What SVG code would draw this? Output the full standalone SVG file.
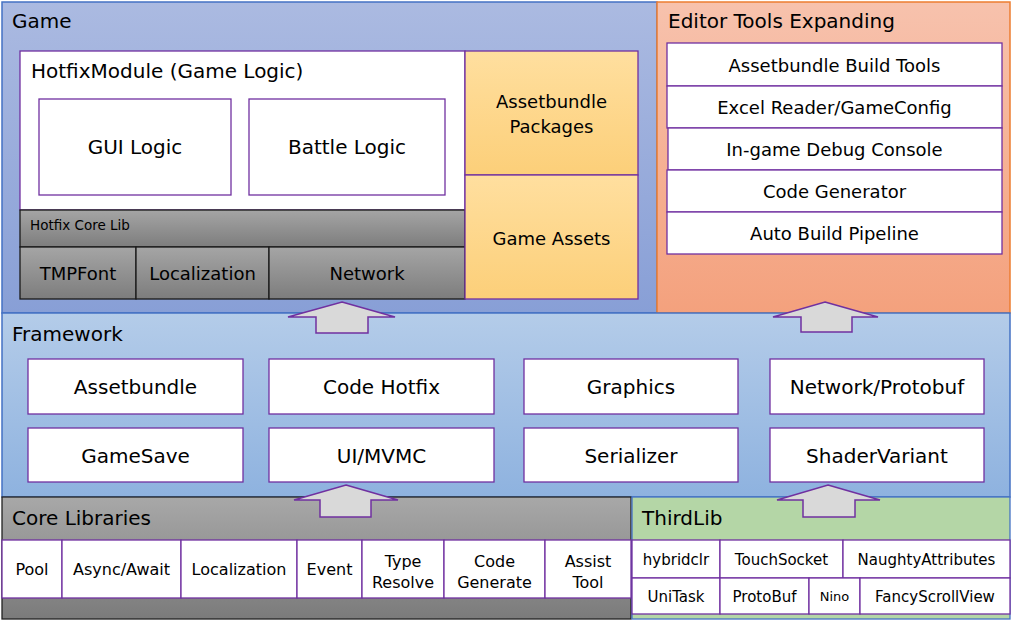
<svg xmlns="http://www.w3.org/2000/svg" width="1013" height="620" viewBox="0 0 1013 620">
<defs>
<linearGradient id="gGame" x1="0" y1="0" x2="0" y2="1"><stop offset="0" stop-color="#abbae1"/><stop offset="1" stop-color="#889fd6"/></linearGradient>
<linearGradient id="gEditor" x1="0" y1="0" x2="0" y2="1"><stop offset="0" stop-color="#f7c2ad"/><stop offset="1" stop-color="#f4a17d"/></linearGradient>
<linearGradient id="gFrame" x1="0" y1="0" x2="0" y2="1"><stop offset="0" stop-color="#b4cce9"/><stop offset="1" stop-color="#8eb2df"/></linearGradient>
<linearGradient id="gCore" x1="0" y1="0" x2="0" y2="1"><stop offset="0" stop-color="#a8a8a8"/><stop offset="1" stop-color="#7b7b7b"/></linearGradient>
<linearGradient id="gHot" x1="0" y1="0" x2="0" y2="1"><stop offset="0" stop-color="#a5a5a5"/><stop offset="1" stop-color="#7d7d7d"/></linearGradient>
<linearGradient id="gOrange" x1="0" y1="0" x2="0" y2="1"><stop offset="0" stop-color="#ffdf9f"/><stop offset="1" stop-color="#fccf79"/></linearGradient>
<style>
text{font-family:"DejaVu Sans","Liberation Sans",sans-serif;fill:#000}
.title{font-size:20px}
.c{text-anchor:middle}
.box{fill:#fff;stroke:#7030a0;stroke-width:1.3}
.arrow{fill:#d9d9d9;stroke:#7030a0;stroke-width:1.5}
.gray{stroke:#1a1a1a;stroke-width:1.3}
.f20{font-size:20px}
.f18{font-size:18px}
.f16{font-size:16px}
.f15{font-size:15px}
</style>
</defs>

<g id="game">
<rect x="2" y="2" width="655" height="311" fill="url(#gGame)" stroke="#4472c4" stroke-width="1.5"/>
<text class="title" x="12" y="28">Game</text>
</g>
<g id="editor">
<rect x="657" y="2" width="353" height="311" fill="url(#gEditor)" stroke="#ed7d31" stroke-width="1.5"/>
<text class="title" x="668" y="28">Editor Tools Expanding</text>
</g>
<g id="framework">
<rect x="2" y="313" width="1008" height="184" fill="url(#gFrame)" stroke="#4472c4" stroke-width="1.5"/>
<text class="title" x="12" y="341">Framework</text>
</g>
<g id="core">
<rect x="2" y="497" width="629" height="122" fill="url(#gCore)" stroke="#222" stroke-width="1.3"/>
<text class="title" x="12" y="525">Core Libraries</text>
</g>
<g id="thirdlib">
<rect x="632" y="497" width="378" height="122" fill="#b4d6a6" stroke="#4472c4" stroke-width="1.3"/>
<text class="title" x="642" y="525">ThirdLib</text>
</g>

<g id="hotfix-module">
<rect class="box" x="20" y="51" width="445" height="159"/>
<text class="f20" x="31" y="78">HotfixModule (Game Logic)</text>
</g>
<g id="gui-logic"><rect class="box" x="39" y="99" width="192" height="96"/><text class="f20 c" x="135" y="154">GUI Logic</text></g>
<g id="battle-logic"><rect class="box" x="249" y="99" width="196" height="96"/><text class="f20 c" x="347" y="154">Battle Logic</text></g>
<g id="hotfix-core-lib"><rect class="gray" x="20" y="210" width="445" height="37" fill="url(#gHot)"/><text x="30" y="230" style="font-size:13.5px">Hotfix Core Lib</text></g>
<g id="tmpfont"><rect class="gray" x="20" y="247" width="116" height="52" fill="url(#gHot)"/><text class="f18 c" x="78" y="280">TMPFont</text></g>
<g id="localization-hot"><rect class="gray" x="136" y="247" width="133" height="52" fill="url(#gHot)"/><text class="f18 c" x="202.5" y="280">Localization</text></g>
<g id="network-hot"><rect class="gray" x="269" y="247" width="196" height="52" fill="url(#gHot)"/><text class="f18 c" x="367" y="280">Network</text></g>
<g id="assetbundle-packages"><rect x="465" y="51" width="173" height="124" fill="url(#gOrange)" stroke="#7030a0" stroke-width="1.3"/><text class="f18 c" x="551.5" y="108">Assetbundle</text><text class="f18 c" x="551.5" y="133">Packages</text></g>
<g id="game-assets"><rect x="465" y="175" width="173" height="124" fill="url(#gOrange)" stroke="#7030a0" stroke-width="1.3"/><text class="f18 c" x="551.5" y="245">Game Assets</text></g>

<g id="editor-1"><rect class="box" x="667" y="43" width="335" height="43"/><text class="f18 c" x="834.5" y="72">Assetbundle Build Tools</text></g>
<g id="editor-2"><rect class="box" x="667" y="86" width="335" height="42"/><text class="f18 c" x="834.5" y="114">Excel Reader/GameConfig</text></g>
<g id="editor-3"><rect class="box" x="668" y="128" width="334" height="42"/><text class="f18 c" x="834.5" y="156">In-game Debug Console</text></g>
<g id="editor-4"><rect class="box" x="667" y="170" width="335" height="42"/><text class="f18 c" x="834.5" y="198">Code Generator</text></g>
<g id="editor-5"><rect class="box" x="667" y="212" width="335" height="42"/><text class="f18 c" x="834.5" y="240">Auto Build Pipeline</text></g>

<g id="fw-assetbundle"><rect class="box" x="28" y="359" width="215" height="55"/><text class="f20 c" x="135.5" y="394">Assetbundle</text></g>
<g id="fw-code-hotfix"><rect class="box" x="269" y="359" width="225" height="55"/><text class="f20 c" x="381.5" y="394">Code Hotfix</text></g>
<g id="fw-graphics"><rect class="box" x="524" y="359" width="214" height="55"/><text class="f20 c" x="631" y="394">Graphics</text></g>
<g id="fw-network"><rect class="box" x="770" y="359" width="214" height="55"/><text class="f20 c" x="877" y="394">Network/Protobuf</text></g>
<g id="fw-gamesave"><rect class="box" x="28" y="428" width="215" height="54"/><text class="f20 c" x="135.5" y="463">GameSave</text></g>
<g id="fw-ui"><rect class="box" x="269" y="428" width="225" height="54"/><text class="f20 c" x="381.5" y="463">UI/MVMC</text></g>
<g id="fw-serializer"><rect class="box" x="524" y="428" width="214" height="54"/><text class="f20 c" x="631" y="463">Serializer</text></g>
<g id="fw-shader"><rect class="box" x="770" y="428" width="214" height="54"/><text class="f20 c" x="877" y="463">ShaderVariant</text></g>

<g id="core-pool"><rect class="box" x="2" y="540" width="60" height="58"/><text class="f16 c" x="32" y="575">Pool</text></g>
<g id="core-async"><rect class="box" x="62" y="540" width="119" height="58"/><text class="f16 c" x="121.5" y="575">Async/Await</text></g>
<g id="core-localization"><rect class="box" x="181" y="540" width="116" height="58"/><text class="f16 c" x="239" y="575">Localization</text></g>
<g id="core-event"><rect class="box" x="297" y="540" width="65" height="58"/><text class="f16 c" x="329.5" y="575">Event</text></g>
<g id="core-type"><rect class="box" x="362" y="540" width="82" height="58"/><text class="f16 c" x="403" y="567">Type</text><text class="f16 c" x="403" y="588">Resolve</text></g>
<g id="core-codegen"><rect class="box" x="444" y="540" width="101" height="58"/><text class="f16 c" x="494.5" y="567">Code</text><text class="f16 c" x="494.5" y="588">Generate</text></g>
<g id="core-assist"><rect class="box" x="545" y="540" width="86" height="58"/><text class="f16 c" x="588" y="567">Assist</text><text class="f16 c" x="588" y="588">Tool</text></g>

<g id="tl-hybridclr"><rect class="box" x="632" y="540" width="88" height="38"/><text class="f15 c" x="676" y="565">hybridclr</text></g>
<g id="tl-touchsocket"><rect class="box" x="720" y="540" width="123" height="38"/><text class="f15 c" x="781.5" y="565">TouchSocket</text></g>
<g id="tl-naughty"><rect class="box" x="843" y="540" width="167" height="38"/><text class="f15 c" x="926.5" y="565">NaughtyAttributes</text></g>
<g id="tl-unitask"><rect class="box" x="632" y="578" width="88" height="36"/><text class="f15 c" x="676" y="602">UniTask</text></g>
<g id="tl-protobuf"><rect class="box" x="720" y="578" width="89" height="36"/><text class="f15 c" x="764.5" y="602">ProtoBuf</text></g>
<g id="tl-nino"><rect class="box" x="809" y="578" width="51" height="36"/><text class="c" x="834.5" y="601" style="font-size:13px">Nino</text></g>
<g id="tl-fancy"><rect class="box" x="860" y="578" width="150" height="36"/><text class="f15 c" x="935" y="602">FancyScrollView</text></g>

<g id="connectors">
<polygon class="arrow" points="342,302 395,317 368,317 368,333 316,333 316,317 288,317"/>
<polygon class="arrow" points="825,302 878,317 852,317 852,332 801,332 801,317 773,317"/>
<polygon class="arrow" points="346,485 398,500 371,500 371,517 320,517 320,500 294,500"/>
<polygon class="arrow" points="828,485 880,500 855,500 855,517 803,517 803,500 777,500"/>
</g>
</svg>
